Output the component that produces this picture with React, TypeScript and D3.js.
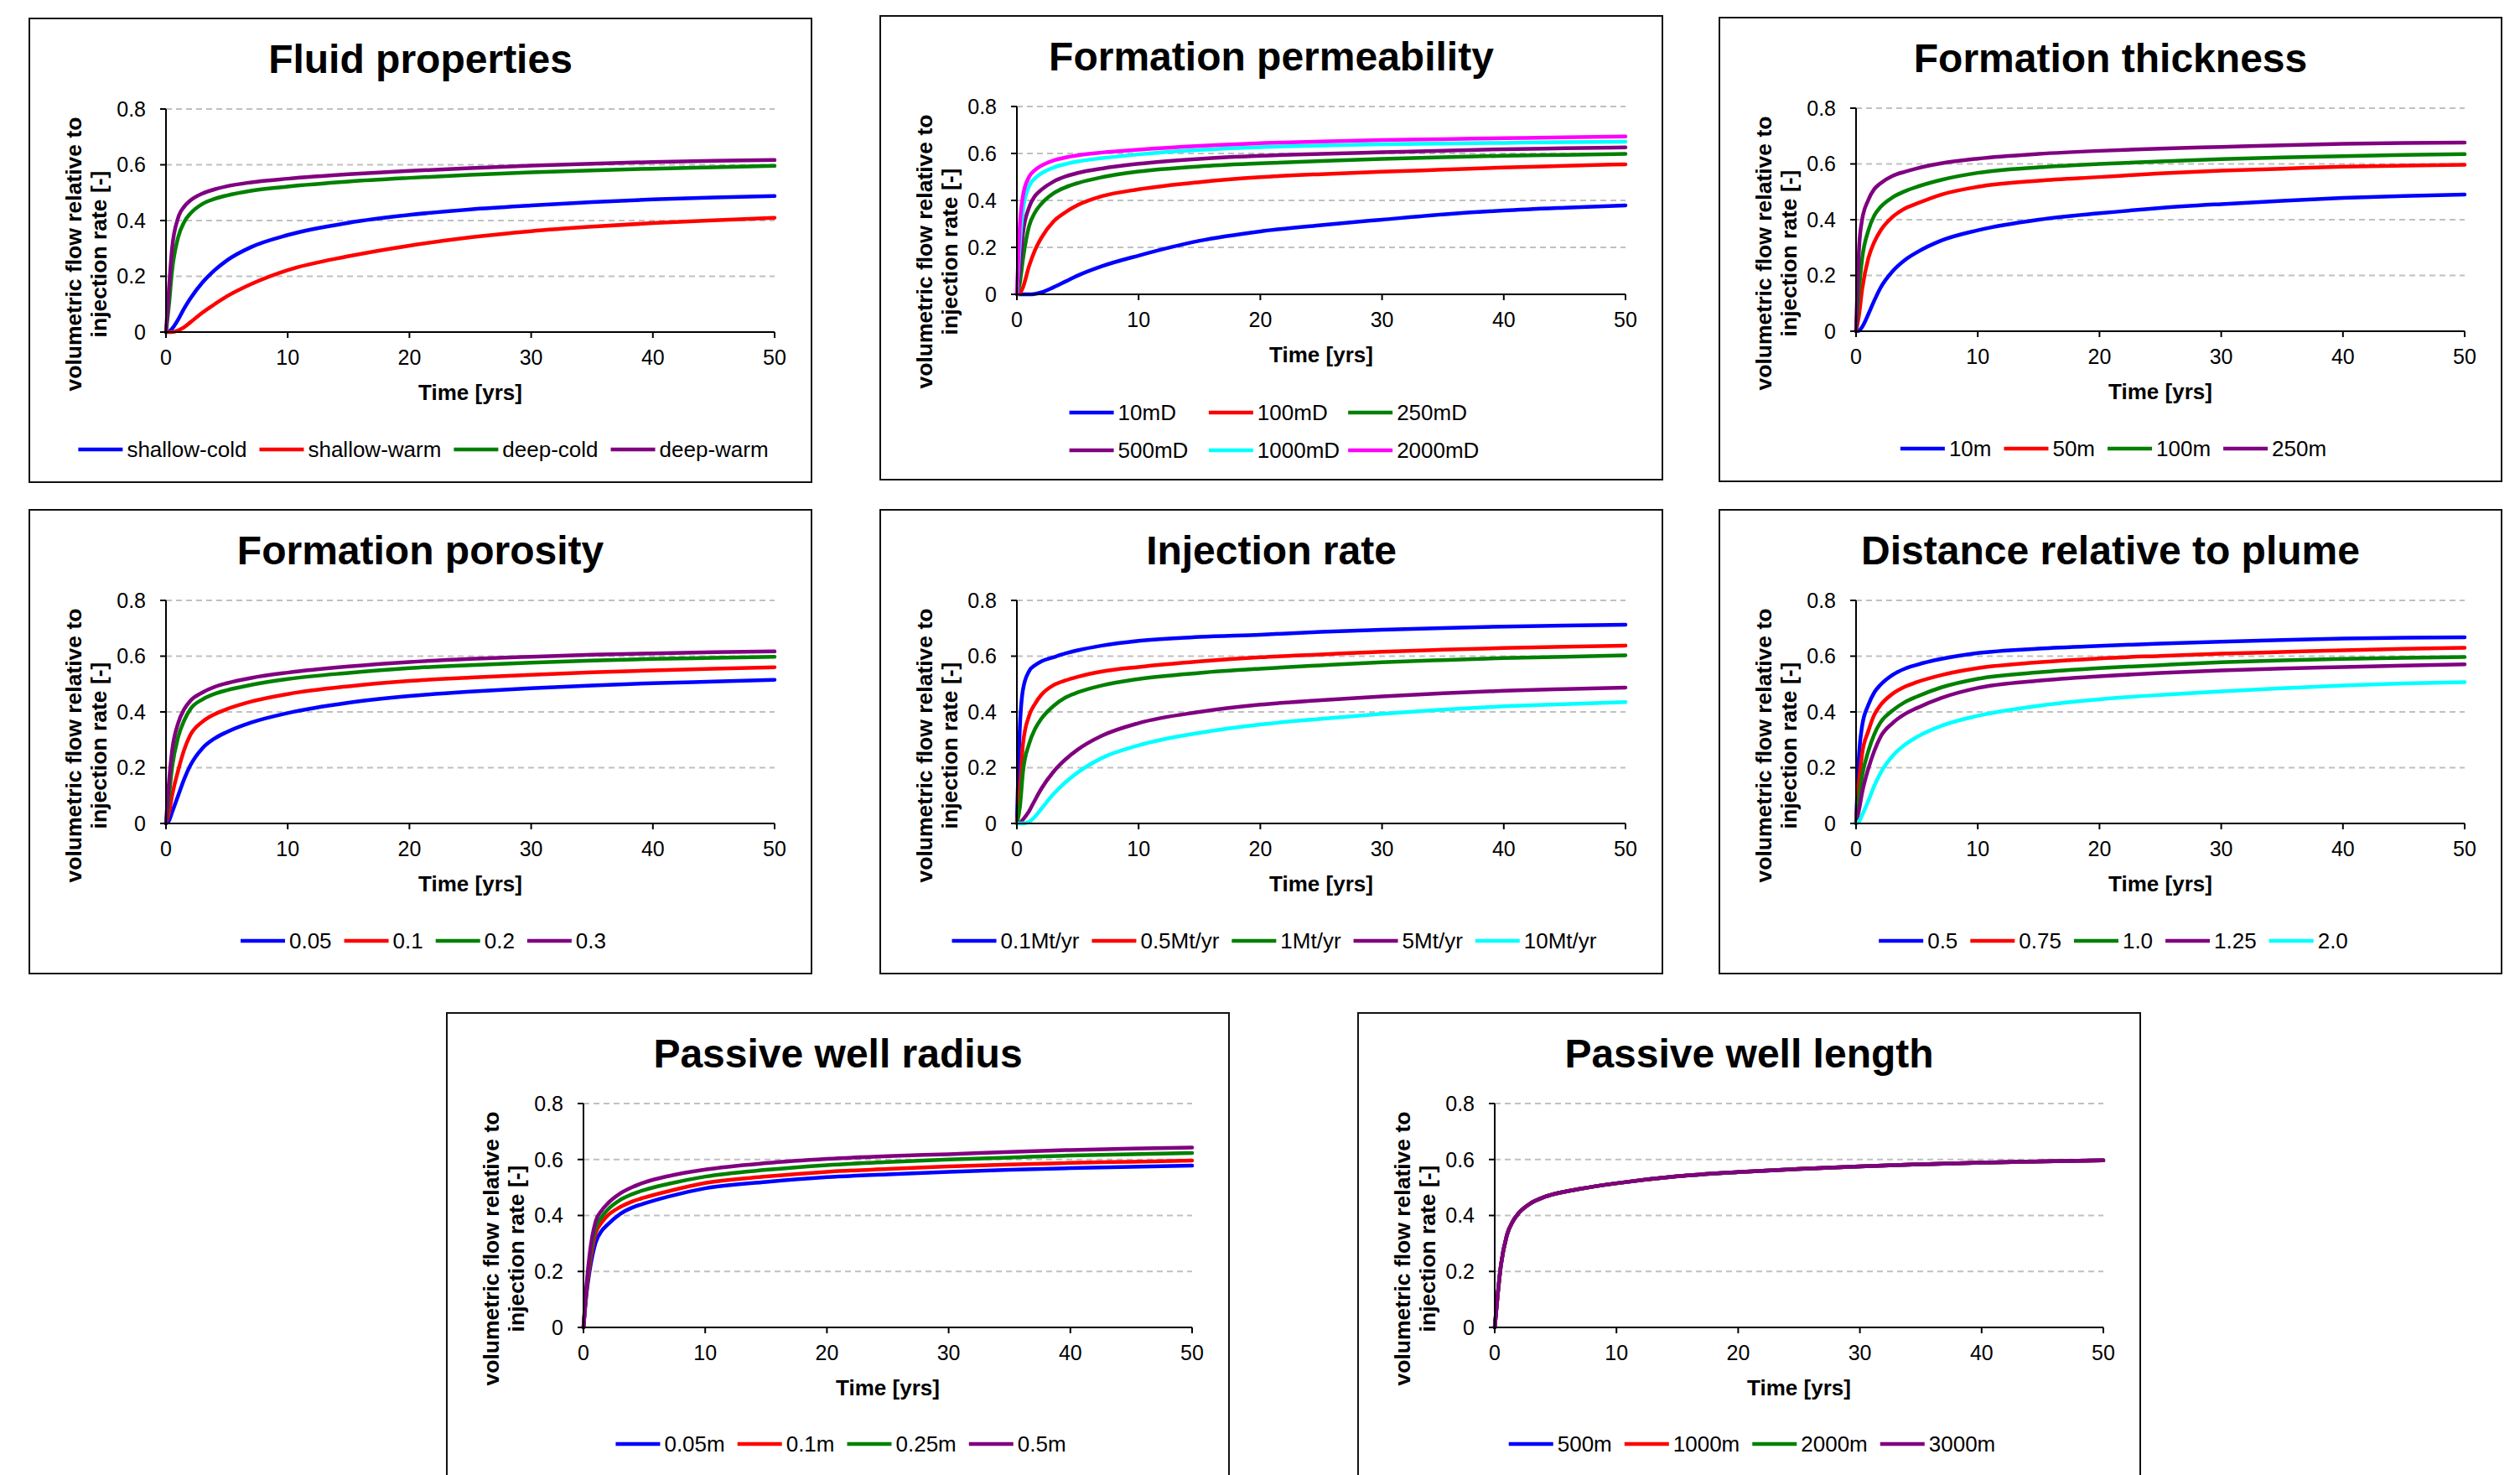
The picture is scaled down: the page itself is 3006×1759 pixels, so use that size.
import React from "react";
import * as d3 from "d3";

// ---------- shared axis data ----------
const TIME = [0, 0.25, 0.5, 1, 1.5, 2, 3, 4, 5, 7, 10, 15, 20, 25, 30, 35, 40, 45, 50];
const X_TICKS = [0, 10, 20, 30, 40, 50];
const Y_TICKS = [0, 0.2, 0.4, 0.6, 0.8];
const Y_TICK_LABELS = ["0", "0.2", "0.4", "0.6", "0.8"];
const Y_TITLE = ["volumetric flow relative to", "injection rate [-]"];
const X_TITLE = "Time [yrs]";

// ---------- Fluid properties ----------
const fluidLabels = ["shallow-cold", "shallow-warm", "deep-cold", "deep-warm"];
const fluidShallowCold = [0, 0.002, 0.012, 0.045, 0.085, 0.12, 0.178, 0.222, 0.257, 0.305, 0.348, 0.392, 0.42, 0.44, 0.454, 0.466, 0.476, 0.483, 0.488];
const fluidShallowWarm = [0, 0, 0, 0.006, 0.018, 0.035, 0.07, 0.1, 0.128, 0.172, 0.222, 0.272, 0.31, 0.34, 0.362, 0.378, 0.391, 0.401, 0.41];
const fluidDeepCold = [0, 0.1, 0.22, 0.34, 0.395, 0.425, 0.46, 0.478, 0.49, 0.507, 0.522, 0.54, 0.553, 0.564, 0.573, 0.58, 0.586, 0.591, 0.596];
const fluidDeepWarm = [0, 0.16, 0.3, 0.41, 0.45, 0.472, 0.497, 0.512, 0.523, 0.537, 0.55, 0.566, 0.578, 0.588, 0.597, 0.604, 0.61, 0.614, 0.617];

// ---------- Formation permeability ----------
const permLabels = ["10mD", "100mD", "250mD", "500mD", "1000mD", "2000mD"];
const perm10 = [0, 0, 0, 0, 0.002, 0.008, 0.03, 0.055, 0.08, 0.12, 0.165, 0.228, 0.268, 0.295, 0.318, 0.34, 0.357, 0.369, 0.379];
const perm100 = [0, 0.005, 0.03, 0.12, 0.19, 0.24, 0.31, 0.35, 0.38, 0.418, 0.447, 0.478, 0.499, 0.512, 0.522, 0.531, 0.54, 0.547, 0.554];
const perm250 = [0, 0.05, 0.15, 0.29, 0.35, 0.385, 0.43, 0.456, 0.474, 0.499, 0.523, 0.545, 0.558, 0.568, 0.577, 0.584, 0.59, 0.594, 0.598];
const perm500 = [0, 0.12, 0.26, 0.37, 0.42, 0.445, 0.48, 0.502, 0.517, 0.536, 0.556, 0.577, 0.59, 0.598, 0.605, 0.612, 0.618, 0.622, 0.626];
const perm1000 = [0, 0.22, 0.36, 0.46, 0.495, 0.515, 0.54, 0.555, 0.566, 0.58, 0.596, 0.615, 0.627, 0.634, 0.639, 0.642, 0.645, 0.648, 0.65];
const perm2000 = [0, 0.3, 0.42, 0.5, 0.53, 0.548, 0.57, 0.583, 0.592, 0.604, 0.616, 0.632, 0.644, 0.651, 0.657, 0.661, 0.665, 0.669, 0.672];

// ---------- Formation thickness ----------
const thickLabels = ["10m", "50m", "100m", "250m"];
const thick10 = [0, 0.002, 0.015, 0.06, 0.11, 0.155, 0.215, 0.255, 0.283, 0.325, 0.362, 0.4, 0.423, 0.442, 0.456, 0.468, 0.478, 0.485, 0.49];
const thick50 = [0, 0.06, 0.15, 0.26, 0.32, 0.36, 0.41, 0.44, 0.458, 0.49, 0.518, 0.54, 0.553, 0.566, 0.576, 0.583, 0.59, 0.594, 0.597];
const thick100 = [0, 0.15, 0.26, 0.36, 0.415, 0.445, 0.48, 0.502, 0.518, 0.543, 0.568, 0.588, 0.6, 0.609, 0.617, 0.623, 0.628, 0.632, 0.635];
const thick250 = [0, 0.3, 0.4, 0.47, 0.51, 0.53, 0.557, 0.572, 0.584, 0.602, 0.619, 0.636, 0.647, 0.655, 0.661, 0.667, 0.672, 0.675, 0.677];

// ---------- Formation porosity ----------
const poroLabels = ["0.05", "0.1", "0.2", "0.3"];
const poro005 = [0, 0.01, 0.04, 0.1, 0.16, 0.208, 0.27, 0.305, 0.328, 0.362, 0.396, 0.433, 0.457, 0.473, 0.485, 0.495, 0.503, 0.509, 0.515];
const poro01 = [0, 0.04, 0.1, 0.19, 0.265, 0.317, 0.365, 0.392, 0.41, 0.437, 0.464, 0.492, 0.511, 0.523, 0.533, 0.542, 0.549, 0.555, 0.56];
const poro02 = [0, 0.1, 0.2, 0.31, 0.37, 0.41, 0.445, 0.465, 0.478, 0.497, 0.518, 0.54, 0.557, 0.568, 0.577, 0.584, 0.59, 0.594, 0.598];
const poro03 = [0, 0.15, 0.26, 0.36, 0.41, 0.44, 0.47, 0.49, 0.503, 0.522, 0.541, 0.563, 0.579, 0.59, 0.598, 0.605, 0.61, 0.614, 0.617];

// ---------- Injection rate ----------
const injLabels = ["0.1Mt/yr", "0.5Mt/yr", "1Mt/yr", "5Mt/yr", "10Mt/yr"];
const inj01 = [0, 0.35, 0.48, 0.546, 0.568, 0.581, 0.596, 0.61, 0.621, 0.638, 0.655, 0.669, 0.677, 0.687, 0.695, 0.701, 0.706, 0.71, 0.713];
const inj05 = [0, 0.12, 0.285, 0.386, 0.43, 0.461, 0.496, 0.513, 0.526, 0.545, 0.561, 0.581, 0.596, 0.606, 0.616, 0.623, 0.629, 0.634, 0.638];
const inj1 = [0, 0.06, 0.185, 0.285, 0.34, 0.375, 0.421, 0.452, 0.47, 0.495, 0.518, 0.54, 0.555, 0.567, 0.578, 0.586, 0.593, 0.598, 0.603];
const inj5 = [0, 0.002, 0.014, 0.044, 0.085, 0.124, 0.185, 0.23, 0.265, 0.315, 0.36, 0.4, 0.426, 0.442, 0.456, 0.467, 0.476, 0.482, 0.487];
const inj10 = [0, 0, 0, 0.006, 0.025, 0.052, 0.105, 0.148, 0.183, 0.235, 0.28, 0.325, 0.355, 0.375, 0.393, 0.408, 0.42, 0.428, 0.435];

// ---------- Distance relative to plume ----------
const distLabels = ["0.5", "0.75", "1.0", "1.25", "2.0"];
const dist05 = [0, 0.25, 0.35, 0.424, 0.47, 0.497, 0.533, 0.555, 0.569, 0.59, 0.611, 0.627, 0.637, 0.645, 0.652, 0.658, 0.663, 0.666, 0.668];
const dist075 = [0, 0.15, 0.25, 0.33, 0.39, 0.424, 0.465, 0.49, 0.507, 0.532, 0.557, 0.578, 0.592, 0.601, 0.609, 0.615, 0.621, 0.626, 0.63];
const dist10 = [0, 0.09, 0.17, 0.258, 0.32, 0.362, 0.405, 0.435, 0.455, 0.488, 0.519, 0.542, 0.557, 0.568, 0.578, 0.585, 0.59, 0.594, 0.597];
const dist125 = [0, 0.05, 0.11, 0.195, 0.26, 0.31, 0.36, 0.392, 0.414, 0.45, 0.486, 0.512, 0.528, 0.54, 0.549, 0.556, 0.561, 0.566, 0.571];
const dist20 = [0, 0.008, 0.03, 0.08, 0.135, 0.18, 0.242, 0.282, 0.31, 0.35, 0.386, 0.422, 0.445, 0.461, 0.474, 0.485, 0.495, 0.502, 0.507];

// ---------- Passive well radius ----------
const radLabels = ["0.05m", "0.1m", "0.25m", "0.5m"];
const rad005 = [0, 0.12, 0.2, 0.303, 0.345, 0.368, 0.405, 0.428, 0.443, 0.468, 0.497, 0.52, 0.537, 0.547, 0.556, 0.563, 0.569, 0.574, 0.578];
const rad01 = [0, 0.13, 0.22, 0.336, 0.375, 0.4, 0.43, 0.45, 0.464, 0.487, 0.516, 0.539, 0.556, 0.566, 0.575, 0.582, 0.588, 0.592, 0.596];
const rad025 = [0, 0.14, 0.24, 0.357, 0.395, 0.421, 0.455, 0.476, 0.491, 0.513, 0.539, 0.563, 0.58, 0.591, 0.6, 0.607, 0.614, 0.619, 0.623];
const rad05 = [0, 0.15, 0.26, 0.379, 0.418, 0.443, 0.478, 0.501, 0.518, 0.541, 0.564, 0.587, 0.602, 0.612, 0.619, 0.627, 0.634, 0.639, 0.643];

// ---------- Passive well length ----------
const lenLabels = ["500m", "1000m", "2000m", "3000m"];
const len500 = [0, 0.12, 0.22, 0.33, 0.38, 0.41, 0.445, 0.465, 0.478, 0.495, 0.515, 0.54, 0.555, 0.566, 0.575, 0.583, 0.589, 0.593, 0.597];
const len1000 = [0, 0.12, 0.22, 0.33, 0.38, 0.41, 0.445, 0.465, 0.478, 0.495, 0.515, 0.54, 0.555, 0.566, 0.575, 0.583, 0.589, 0.593, 0.597];
const len2000 = [0, 0.12, 0.22, 0.33, 0.38, 0.41, 0.445, 0.465, 0.478, 0.495, 0.515, 0.54, 0.555, 0.566, 0.575, 0.583, 0.589, 0.593, 0.597];
const len3000 = [0, 0.12, 0.22, 0.33, 0.38, 0.41, 0.445, 0.465, 0.478, 0.495, 0.515, 0.54, 0.555, 0.566, 0.575, 0.583, 0.589, 0.593, 0.597];

// ---------- colours ----------
const BLUE = "#0000FF";
const RED = "#FF0000";
const GREEN = "#008000";
const PURPLE = "#800080";
const CYAN = "#00FFFF";
const MAGENTA = "#FF00FF";

const FONT = "'Liberation Sans', Arial, Helvetica, sans-serif";

type Series = { label: string; color: string; values: number[] };
type PanelCfg = {
  title: string;
  x0: number;
  y0: number;
  plotBottom: number;
  legendCols?: number;
  series: Series[];
};

const mk = (labels: string[], colors: string[], vals: number[][]): Series[] =>
  labels.map((l, i) => ({ label: l, color: colors[i], values: vals[i] }));

const PANELS: PanelCfg[] = [
  { title: "Fluid properties", x0: 35, y0: 22, plotBottom: 374,
    series: mk(fluidLabels, [BLUE, RED, GREEN, PURPLE], [fluidShallowCold, fluidShallowWarm, fluidDeepCold, fluidDeepWarm]) },
  { title: "Formation permeability", x0: 1050, y0: 19, plotBottom: 332, legendCols: 3,
    series: mk(permLabels, [BLUE, RED, GREEN, PURPLE, CYAN, MAGENTA], [perm10, perm100, perm250, perm500, perm1000, perm2000]) },
  { title: "Formation thickness", x0: 2051, y0: 21, plotBottom: 374,
    series: mk(thickLabels, [BLUE, RED, GREEN, PURPLE], [thick10, thick50, thick100, thick250]) },
  { title: "Formation porosity", x0: 35, y0: 608, plotBottom: 374,
    series: mk(poroLabels, [BLUE, RED, GREEN, PURPLE], [poro005, poro01, poro02, poro03]) },
  { title: "Injection rate", x0: 1050, y0: 608, plotBottom: 374,
    series: mk(injLabels, [BLUE, RED, GREEN, PURPLE, CYAN], [inj01, inj05, inj1, inj5, inj10]) },
  { title: "Distance relative to plume", x0: 2051, y0: 608, plotBottom: 374,
    series: mk(distLabels, [BLUE, RED, GREEN, PURPLE, CYAN], [dist05, dist075, dist10, dist125, dist20]) },
  { title: "Passive well radius", x0: 533, y0: 1208, plotBottom: 375,
    series: mk(radLabels, [BLUE, RED, GREEN, PURPLE], [rad005, rad01, rad025, rad05]) },
  { title: "Passive well length", x0: 1620, y0: 1208, plotBottom: 375,
    series: mk(lenLabels, [BLUE, RED, GREEN, PURPLE], [len500, len1000, len2000, len3000]) },
];

let _ctx: CanvasRenderingContext2D | null = null;
function textWidth(t: string, size: number) {
  if (!_ctx) {
    const c = document.createElement("canvas");
    _ctx = c.getContext("2d");
  }
  if (!_ctx) return t.length * size * 0.55;
  _ctx.font = `${size}px ${FONT}`;
  return _ctx.measureText(t).width;
}

const PW = 933;
const PH = 553;
const TICK_FS = 25;
const LEG_FS = 26;
const LINE_LEN = 53;

function Panel({ cfg }: { cfg: PanelCfg }) {
  const plotL = 163;
  const plotR = 889;
  const plotT = 108;
  const plotB = cfg.plotBottom;
  const x = d3.scaleLinear().domain([0, 50]).range([plotL, plotR]);
  const y = d3.scaleLinear().domain([0, 0.8]).range([plotB, plotT]);
  const line = d3
    .line<number>()
    .x((_d, i) => x(TIME[i]))
    .y((d) => y(d))
    .curve(d3.curveMonotoneX);

  // legend layout
  const legendItems: { x: number; y: number; s: Series }[] = [];
  const legendCenter = 470;
  if (cfg.legendCols) {
    const cols = cfg.legendCols;
    const maxW = d3.max(cfg.series, (s) => textWidth(s.label, LEG_FS)) || 0;
    const colW = LINE_LEN + 5 + maxW + 10;
    const total = cols * colW - 10;
    const start = legendCenter - total / 2;
    const rowsY = [473, 518];
    cfg.series.forEach((s, i) => {
      legendItems.push({ x: start + (i % cols) * colW, y: rowsY[Math.floor(i / cols)], s });
    });
  } else {
    const widths = cfg.series.map((s) => LINE_LEN + 5 + textWidth(s.label, LEG_FS) + 15);
    const total = d3.sum(widths) - 15;
    let cx = legendCenter - total / 2;
    cfg.series.forEach((s, i) => {
      legendItems.push({ x: cx, y: 514, s });
      cx += widths[i];
    });
  }

  return (
    <g transform={`translate(${cfg.x0},${cfg.y0})`}>
      <rect x={0} y={0} width={PW} height={PH} fill="#fff" stroke="#111" strokeWidth={2} />
      <text x={PW / 2} y={65} textAnchor="middle" fontFamily={FONT} fontWeight="bold" fontSize={48} fill="#000">
        {cfg.title}
      </text>
      {/* gridlines */}
      {Y_TICKS.filter((v) => v > 0).map((v) => (
        <line key={"g" + v} x1={plotL} x2={plotR} y1={y(v)} y2={y(v)} stroke="#c0c0c0" strokeWidth={2} strokeDasharray="7 5" />
      ))}
      {/* series */}
      {cfg.series.map((s) => (
        <path key={s.label} d={line(s.values) || ""} fill="none" stroke={s.color} strokeWidth={4.5} strokeLinejoin="round" strokeLinecap="round" />
      ))}
      {/* axes */}
      <line x1={plotL} x2={plotL} y1={plotT} y2={plotB} stroke="#000" strokeWidth={2} />
      <line x1={plotL} x2={plotR} y1={plotB} y2={plotB} stroke="#000" strokeWidth={2} />
      {Y_TICKS.map((v, i) => (
        <g key={"yt" + v}>
          <line x1={plotL - 7} x2={plotL} y1={y(v)} y2={y(v)} stroke="#000" strokeWidth={2} />
          <text x={plotL - 24} y={y(v)} dy="0.35em" textAnchor="end" fontFamily={FONT} fontSize={TICK_FS} fill="#000">
            {Y_TICK_LABELS[i]}
          </text>
        </g>
      ))}
      {X_TICKS.map((v) => (
        <g key={"xt" + v}>
          <line x1={x(v)} x2={x(v)} y1={plotB} y2={plotB + 7} stroke="#000" strokeWidth={2} />
          <text x={x(v)} y={plotB + 39} textAnchor="middle" fontFamily={FONT} fontSize={TICK_FS} fill="#000">
            {String(v)}
          </text>
        </g>
      ))}
      <text x={(plotL + plotR) / 2} y={plotB + 81} textAnchor="middle" fontFamily={FONT} fontWeight="bold" fontSize={26} fill="#000">
        {X_TITLE}
      </text>
      {Y_TITLE.map((t, i) => {
        const tx = 53 + i * 30;
        const ty = 281;
        return (
          <text key={t} x={tx} y={ty} dy="0.35em" transform={`rotate(-90,${tx},${ty})`} textAnchor="middle" fontFamily={FONT} fontWeight="bold" fontSize={26.5} fill="#000">
            {t}
          </text>
        );
      })}
      {/* legend */}
      {legendItems.map(({ x: lx, y: ly, s }) => (
        <g key={"lg" + s.label}>
          <line x1={lx} x2={lx + LINE_LEN} y1={ly} y2={ly} stroke={s.color} strokeWidth={4.5} />
          <text x={lx + LINE_LEN + 5} y={ly} dy="0.35em" fontFamily={FONT} fontSize={LEG_FS} fill="#000">
            {s.label}
          </text>
        </g>
      ))}
    </g>
  );
}

export default function App() {
  return (
    <div style={{ position: "absolute", left: 0, top: 0, width: 3006, height: 1759, overflow: "hidden", background: "#fff" }}>
      <svg width={3006} height={1759} viewBox="0 0 3006 1759" style={{ display: "block" }}>
        <rect x={0} y={0} width={3006} height={1759} fill="#fff" />
        {PANELS.map((p) => (
          <Panel key={p.title} cfg={p} />
        ))}
      </svg>
    </div>
  );
}
